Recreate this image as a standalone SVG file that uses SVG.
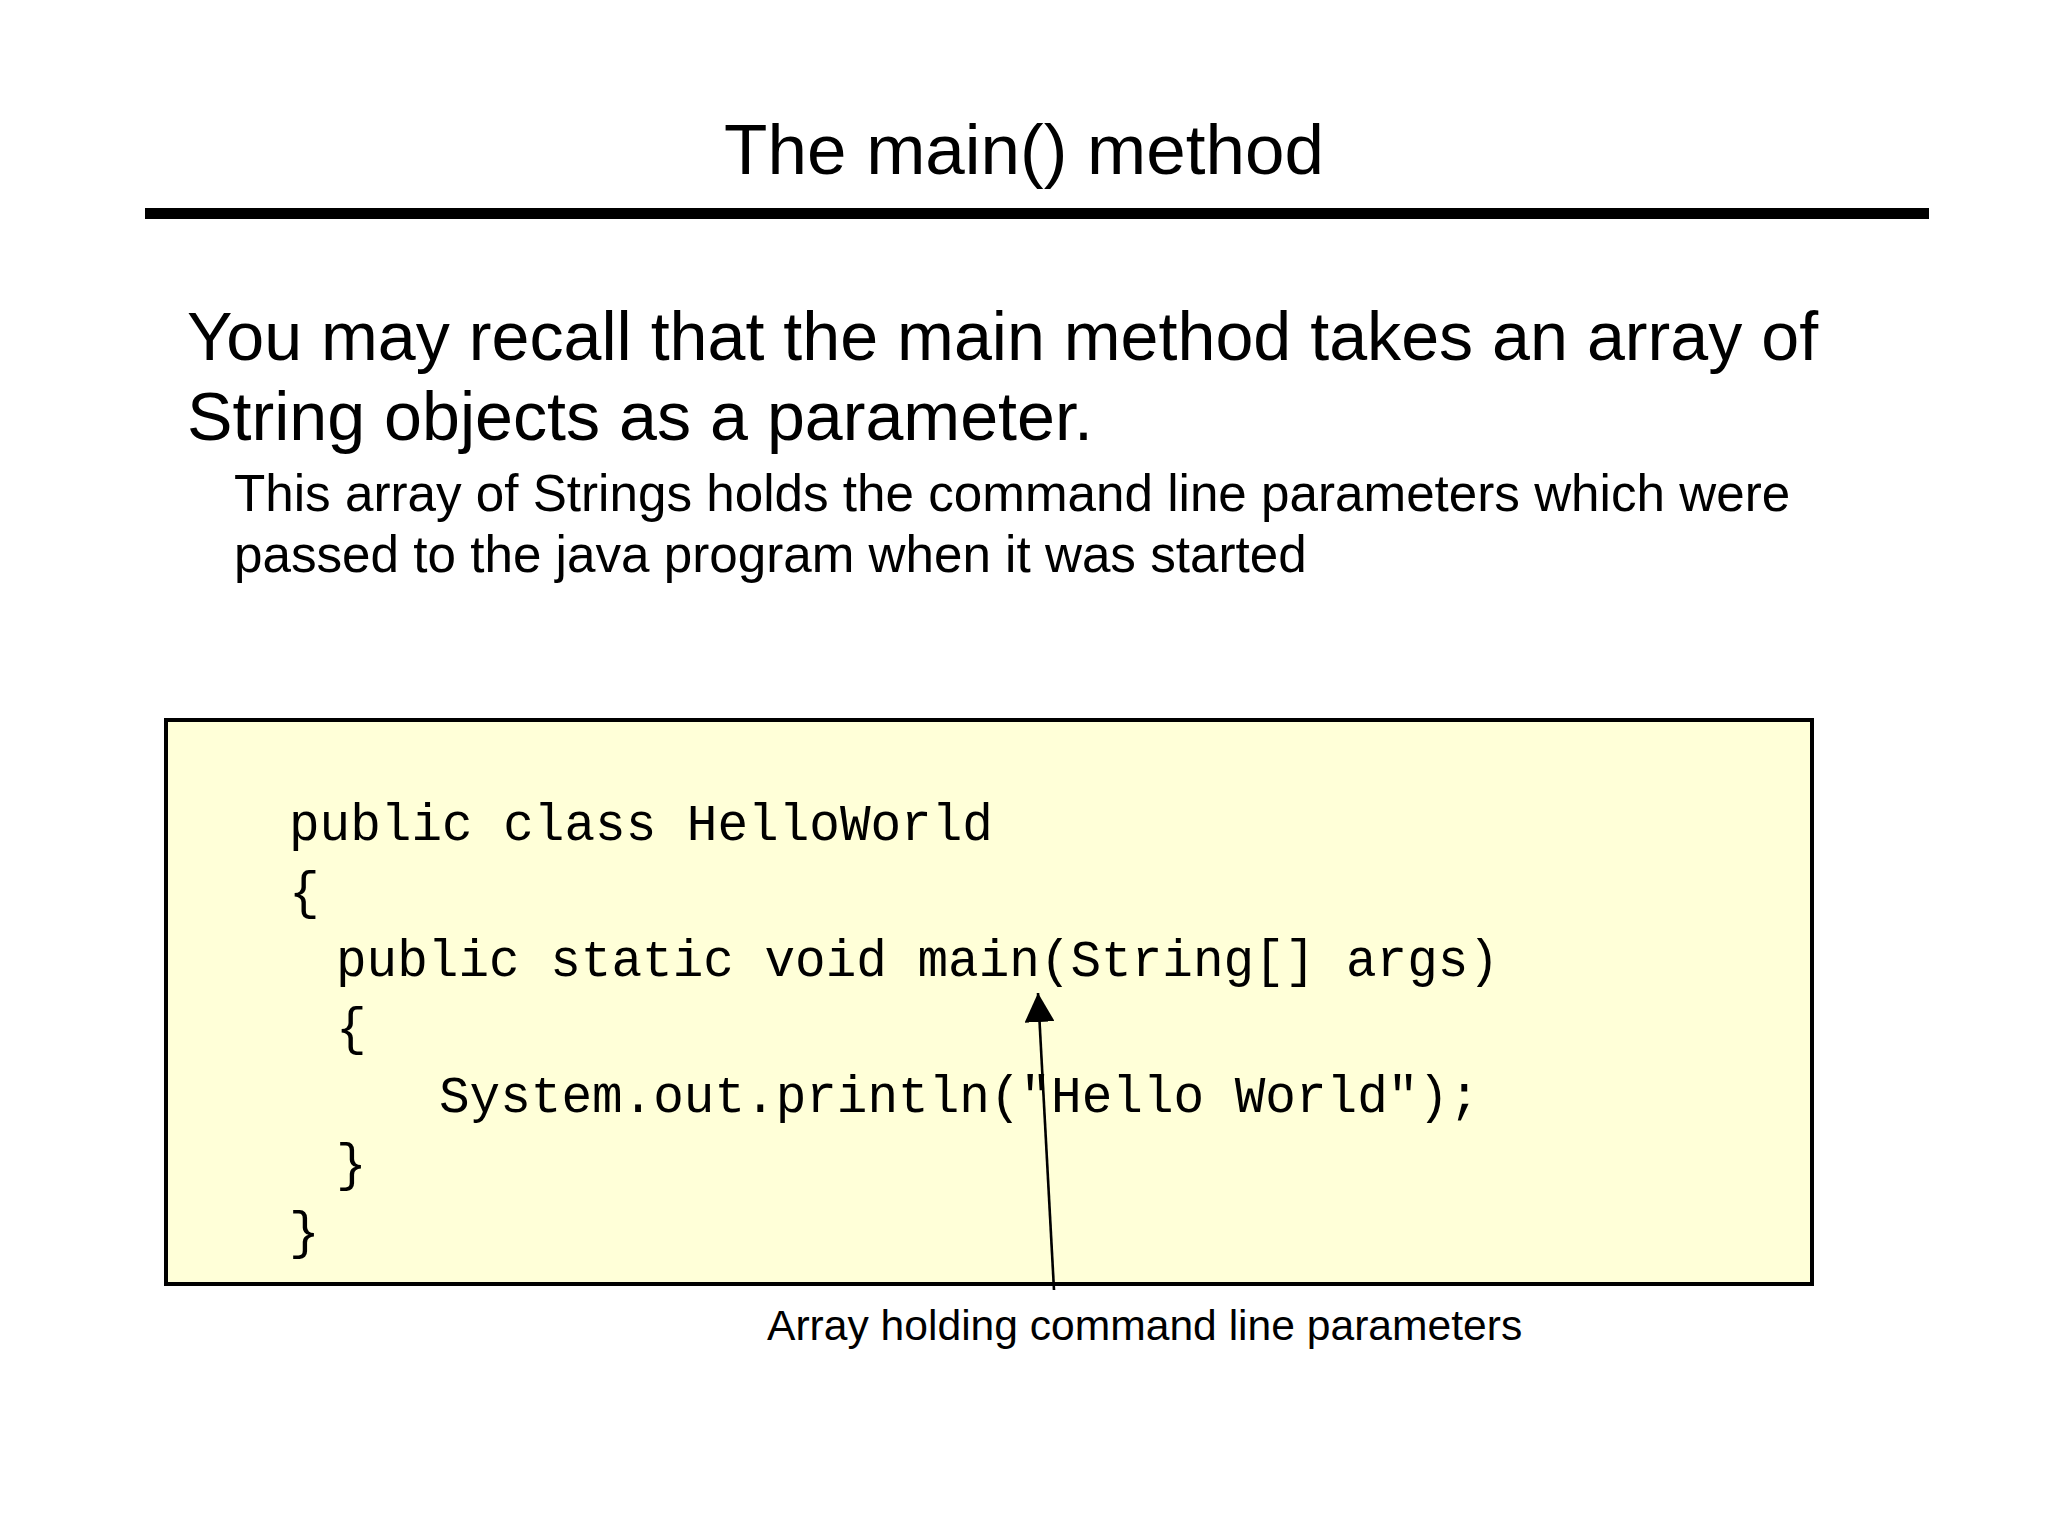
<svg xmlns="http://www.w3.org/2000/svg" width="2048" height="1536" viewBox="0 0 2048 1536">
<style>
.sans{font-family:"Liberation Sans",Arial,Helvetica,sans-serif;fill:#000}
.title{font-size:71px}
.body{font-size:68.2px}
.sub{font-size:51.2px}
.lbl{font-size:42.6px}
.code{font-family:"Courier New","Liberation Mono",monospace;font-size:51px;fill:#000;white-space:pre}
.box{fill:#FFFFD8;stroke:#000;stroke-width:4}
.conn{stroke:#000;stroke-width:2.6;fill:none}
</style>
<defs>
<marker id="arrow" markerUnits="userSpaceOnUse" markerWidth="30" markerHeight="30" viewBox="0 0 30 30" refX="29" refY="15" orient="auto">
<path d="M0,0 L29,15 L0,30 Z" fill="#000"/>
</marker>
</defs>
<rect width="2048" height="1536" fill="#fff"/>
<g id="title">
<text class="sans title" x="1024" y="174" text-anchor="middle">The main() method</text>
<rect x="145" y="208" width="1784" height="11" fill="#000"/>
</g>
<g id="intro">
<text class="sans body" x="187" y="360">You may recall that the main method takes an array of</text>
<text class="sans body" x="187" y="440">String objects as a parameter.</text>
<text class="sans sub" x="234" y="511">This array of Strings holds the command line parameters which were</text>
<text class="sans sub" x="234" y="572">passed to the java program when it was started</text>
</g>
<g id="codebox">
<rect class="box" x="166" y="720" width="1646" height="564"/>
<text class="code" x="289" y="840">public class HelloWorld</text>
<text class="code" x="289" y="908">{</text>
<text class="code" x="336" y="976">public static void main(String[] args)</text>
<text class="code" x="336" y="1044">{</text>
<text class="code" x="439" y="1112">System.out.println("Hello World");</text>
<text class="code" x="336" y="1180">}</text>
<text class="code" x="289" y="1248">}</text>
</g>
<g id="connectors">
<line class="conn" x1="1054" y1="1290" x2="1038" y2="993" marker-end="url(#arrow)"/>
</g>
<g id="label">
<text class="sans lbl" x="767" y="1340">Array holding command line parameters</text>
</g>
</svg>
